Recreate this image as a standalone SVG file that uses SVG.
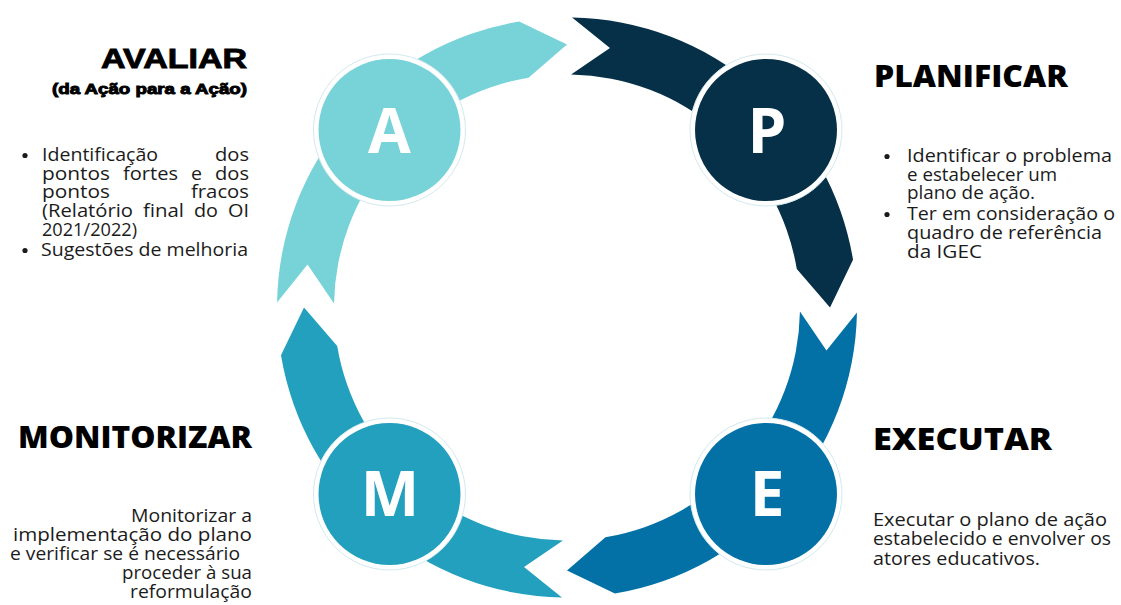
<svg xmlns="http://www.w3.org/2000/svg" width="1121" height="605" viewBox="0 0 1121 605">
<style>
.body{font-family:"Open Sans","Liberation Sans",sans-serif;font-size:17.5px;font-weight:500;fill:#1b1b1b}
.title{font-family:"Open Sans","Liberation Sans",sans-serif;font-size:30px;font-weight:800;fill:#000}
.black{font-family:"Liberation Sans",Arial,sans-serif;font-weight:bold;fill:#000;stroke:#000;stroke-width:0.9}
.letter{font-family:"Open Sans","Liberation Sans",sans-serif;font-size:62px;font-weight:700;fill:#fff;text-anchor:middle}
.ring{fill:#fff;stroke:#d3e9ee;stroke-width:1}
.bullet{fill:#1b1b1b}
</style>
<rect width="1121" height="605" fill="#fff"/>
<g id="connectors">
<path id="arc-P" fill="#053047" d="M572.06 17.54 A290 290 0 0 1 853.02 259.64 L830 307.5 L796.80 269.04 A233 233 0 0 0 571.07 74.54 L609.95 48.03 Z"/>
<path id="arc-E" fill="#0371A6" d="M856.96 312.56 A290 290 0 0 1 614.86 593.52 L567 570.5 L605.46 537.30 A233 233 0 0 0 799.96 311.57 L826.47 350.45 Z"/>
<path id="arc-M" fill="#23A0BD" d="M561.94 597.46 A290 290 0 0 1 280.98 355.36 L304 307.5 L337.20 345.96 A233 233 0 0 0 562.93 540.46 L524.05 566.97 Z"/>
<path id="arc-A" fill="#78D3D8" d="M277.04 302.44 A290 290 0 0 1 519.14 21.48 L567 44.5 L528.54 77.70 A233 233 0 0 0 334.04 303.43 L307.53 264.55 Z"/>
</g>
<g id="node-A">
<circle class="ring" cx="389.5" cy="130" r="76"/>
<circle cx="389.5" cy="130" r="71" fill="#78D3D8"/>
<text class="letter" x="389.5" y="153">A</text>
</g>
<g id="node-P">
<circle class="ring" cx="766" cy="130" r="76"/>
<circle cx="766" cy="130" r="71" fill="#053047"/>
<text class="letter" x="767" y="153">P</text>
</g>
<g id="node-E">
<circle class="ring" cx="766" cy="494" r="76"/>
<circle cx="766" cy="494" r="71" fill="#0371A6"/>
<text class="letter" x="767" y="516">E</text>
</g>
<g id="node-M">
<circle class="ring" cx="389.5" cy="494" r="76"/>
<circle cx="389.5" cy="494" r="71" fill="#23A0BD"/>
<text class="letter" x="390" y="516">M</text>
</g>
<g id="label-avaliar">
<text class="black" x="101" y="68" font-size="28" textLength="146" lengthAdjust="spacingAndGlyphs">AVALIAR</text>
<text class="black" x="52" y="94" font-size="14" stroke-width="0.4" textLength="195" lengthAdjust="spacingAndGlyphs">(da Ação para a Ação)</text>
<circle class="bullet" cx="25" cy="155.5" r="2.6"/>
<circle class="bullet" cx="25" cy="250.5" r="2.6"/>
<text class="body" x="42" y="161" textLength="116" lengthAdjust="spacingAndGlyphs">Identificação</text>
<text class="body" x="215" y="161" textLength="34" lengthAdjust="spacingAndGlyphs">dos</text>
<text class="body" x="42" y="180" textLength="68" lengthAdjust="spacingAndGlyphs">pontos</text>
<text class="body" x="123" y="180" textLength="55" lengthAdjust="spacingAndGlyphs">fortes</text>
<text class="body" x="191" y="180" textLength="11" lengthAdjust="spacingAndGlyphs">e</text>
<text class="body" x="215" y="180" textLength="34" lengthAdjust="spacingAndGlyphs">dos</text>
<text class="body" x="42" y="198" textLength="68" lengthAdjust="spacingAndGlyphs">pontos</text>
<text class="body" x="191" y="198" textLength="58" lengthAdjust="spacingAndGlyphs">fracos</text>
<text class="body" x="42" y="217" textLength="91" lengthAdjust="spacingAndGlyphs">(Relatório</text>
<text class="body" x="143" y="217" textLength="41" lengthAdjust="spacingAndGlyphs">final</text>
<text class="body" x="194" y="217" textLength="24" lengthAdjust="spacingAndGlyphs">do</text>
<text class="body" x="228" y="217" textLength="21" lengthAdjust="spacingAndGlyphs">OI</text>
<text class="body" x="42" y="236" textLength="95" lengthAdjust="spacingAndGlyphs">2021/2022)</text>
<text class="body" x="41" y="256" textLength="207" lengthAdjust="spacingAndGlyphs">Sugestões de melhoria</text>
</g>
<g id="label-planificar">
<text class="title" x="874" y="87" textLength="194" lengthAdjust="spacingAndGlyphs">PLANIFICAR</text>
<circle class="bullet" cx="887" cy="156.5" r="2.6"/>
<circle class="bullet" cx="887" cy="214.5" r="2.6"/>
<text class="body" x="907" y="162" textLength="205" lengthAdjust="spacingAndGlyphs">Identificar o problema</text>
<text class="body" x="907" y="181" textLength="150" lengthAdjust="spacingAndGlyphs">e estabelecer um</text>
<text class="body" x="907" y="199" textLength="128" lengthAdjust="spacingAndGlyphs">plano de ação.</text>
<text class="body" x="907" y="220" textLength="208" lengthAdjust="spacingAndGlyphs">Ter em consideração o</text>
<text class="body" x="907" y="239" textLength="195" lengthAdjust="spacingAndGlyphs">quadro de referência</text>
<text class="body" x="907" y="258" textLength="75" lengthAdjust="spacingAndGlyphs">da IGEC</text>
</g>
<g id="label-executar">
<text class="title" x="873" y="450" textLength="179" lengthAdjust="spacingAndGlyphs">EXECUTAR</text>
<text class="body" x="873" y="526" textLength="234" lengthAdjust="spacingAndGlyphs">Executar o plano de ação</text>
<text class="body" x="873" y="545" textLength="238" lengthAdjust="spacingAndGlyphs">estabelecido e envolver os</text>
<text class="body" x="873" y="565" textLength="167" lengthAdjust="spacingAndGlyphs">atores educativos.</text>
</g>
<g id="label-monitorizar">
<text class="title" x="18" y="448" textLength="234" lengthAdjust="spacingAndGlyphs">MONITORIZAR</text>
<text class="body" x="131" y="522" textLength="121" lengthAdjust="spacingAndGlyphs">Monitorizar a</text>
<text class="body" x="13" y="541" textLength="239" lengthAdjust="spacingAndGlyphs">implementação do plano</text>
<text class="body" x="10" y="560" textLength="230" lengthAdjust="spacingAndGlyphs">e verificar se é necessário</text>
<text class="body" x="122" y="579" textLength="130" lengthAdjust="spacingAndGlyphs">proceder à  sua</text>
<text class="body" x="130" y="598" textLength="122" lengthAdjust="spacingAndGlyphs">reformulação</text>
</g>
</svg>
